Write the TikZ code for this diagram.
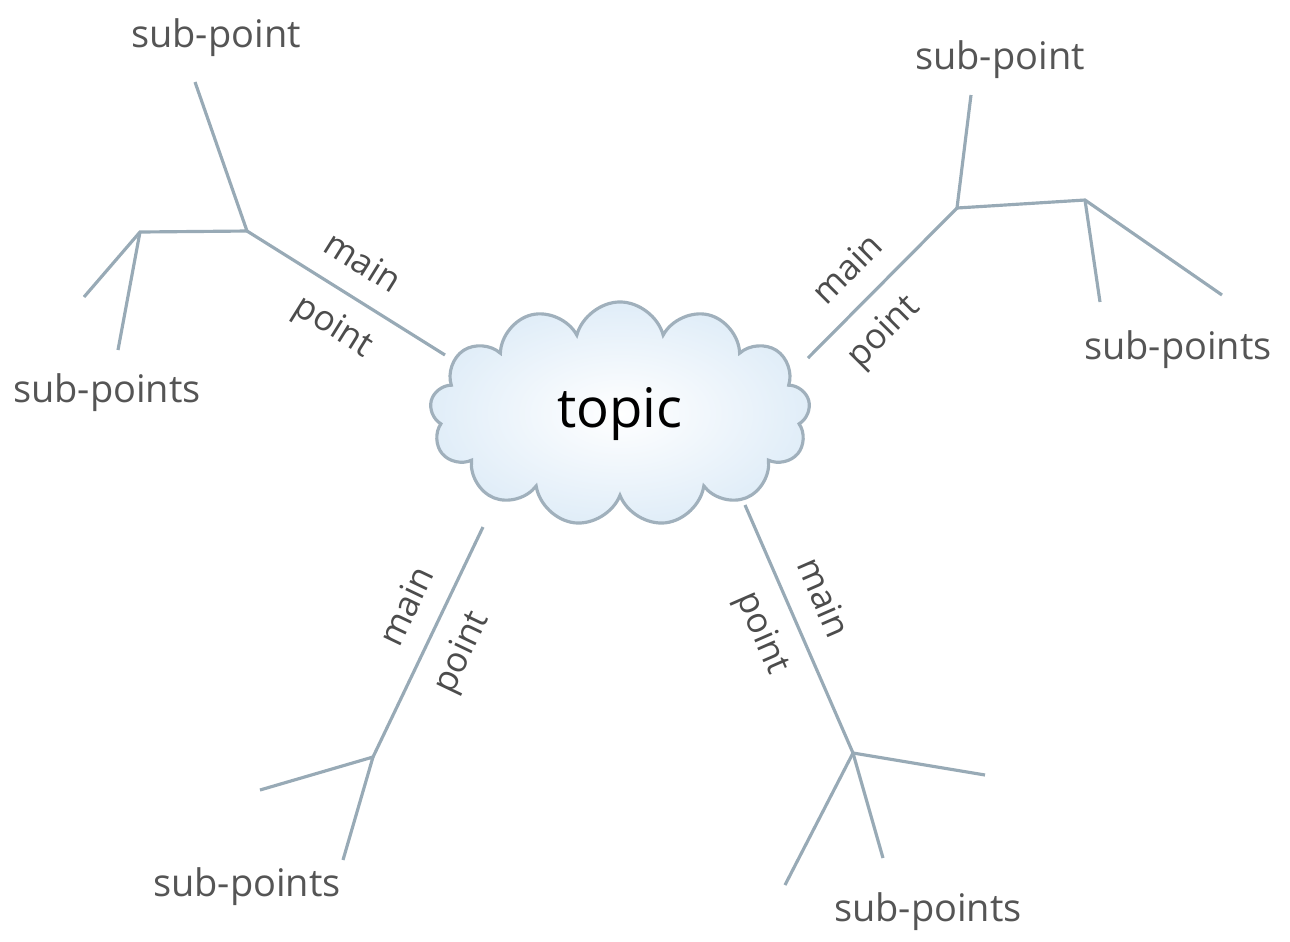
\documentclass[tikz,border=0pt]{standalone}
\usepackage{fontspec}
\setmainfont{Open Sans}
\usepackage{tikz}
\usetikzlibrary{positioning, shapes.symbols}
\definecolor{branchgray}{RGB}{152, 170, 182}
\definecolor{cloudedge}{RGB}{160, 176, 188}
\definecolor{cloudblue}{RGB}{224, 237, 248}
\definecolor{labelgray}{RGB}{85, 85, 85}

\begin{document}
\begin{tikzpicture}[x=0.01cm, y=-0.01cm,
    branch/.style={draw=branchgray, line width=0.9pt},
    subtext/.style={text=labelgray, font=\fontsize{10.8}{13}\selectfont},
    mainlabel/.style={text=black!70, font=\fontsize{10}{12}\selectfont, sloped, inner sep=1pt, above=5pt},
    pointlabel/.style={text=black!70, font=\fontsize{10}{12}\selectfont, sloped, inner sep=1pt, below=4pt}]
    \useasboundingbox (0,0) rectangle (1290,941);
    \node[cloud, cloud puffs=13, aspect=1.7, draw=cloudedge, line width=0.9pt,
          inner color=white, outer color=cloudblue, minimum width=3.8cm, minimum height=2.24cm,
          font=\fontsize{15.5}{18}\selectfont] (topic) at (620,414) {topic};
    % top left
    \coordinate (tl-c) at (445,355);
    \coordinate (tl-j) at (247,231);
    \coordinate (tl-up) at (195,82);
    \coordinate (tl-k) at (140,232);
    \coordinate (tl-a) at (84,297);
    \coordinate (tl-b) at (118,350);
    \node[subtext] (tl-sub) at (216,38) {sub-point};
    \node[subtext] (tl-subs) at (107,393) {sub-points};
    \draw[branch] (tl-j) -- (tl-c) node[mainlabel, pos=0.49] {main} node[pointlabel, pos=0.53] {point};
    \draw[branch] (tl-up) -- (tl-j) -- (tl-k) -- (tl-a);
    \draw[branch] (tl-k) -- (tl-b);
    % top right
    \coordinate (tr-c) at (808,358);
    \coordinate (tr-j) at (957,208);
    \coordinate (tr-up) at (971,95);
    \coordinate (tr-k) at (1085,200);
    \coordinate (tr-a) at (1222,295);
    \coordinate (tr-b) at (1100,302);
    \node[subtext] (tr-sub) at (1000,60) {sub-point};
    \node[subtext] (tr-subs) at (1178,350) {sub-points};
    \draw[branch] (tr-c) -- (tr-j) node[mainlabel, pos=0.43] {main} node[pointlabel, pos=0.34] {point};
    \draw[branch] (tr-up) -- (tr-j) -- (tr-k) -- (tr-a);
    \draw[branch] (tr-k) -- (tr-b);
    % bottom left
    \coordinate (bl-c) at (483,527);
    \coordinate (bl-j) at (373,757);
    \coordinate (bl-a) at (260,790);
    \coordinate (bl-b) at (343,860);
    \node[subtext] (bl-subs) at (247,887) {sub-points};
    \draw[branch] (bl-j) -- (bl-c) node[mainlabel, pos=0.59] {main} node[pointlabel, pos=0.52] {point};
    \draw[branch] (bl-a) -- (bl-j) -- (bl-b);
    % bottom right
    \coordinate (br-c) at (745,505);
    \coordinate (br-j) at (853,753);
    \coordinate (br-a) at (985,775);
    \coordinate (br-b) at (785,885);
    \coordinate (br-d) at (883,858);
    \node[subtext] (br-subs) at (928,912) {sub-points};
    \draw[branch] (br-c) -- (br-j) node[mainlabel, pos=0.43] {main} node[pointlabel, pos=0.46] {point};
    \draw[branch] (br-a) -- (br-j) -- (br-b);
    \draw[branch] (br-j) -- (br-d);
\end{tikzpicture}
\end{document}
